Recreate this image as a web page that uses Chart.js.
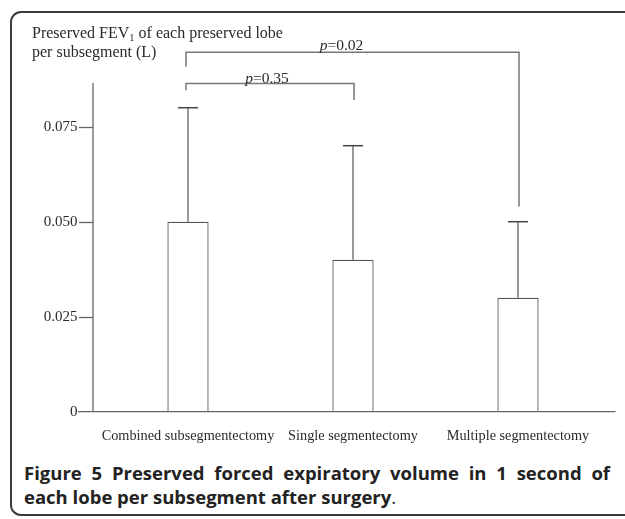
<!DOCTYPE html>
<html>
<head>
<meta charset="utf-8">
<script src="https://cdn.jsdelivr.net/npm/chart.js@4.4.1/dist/chart.umd.min.js"></script>
<style>
  html, body { margin: 0; padding: 0; background: #fff; }
  body { width: 625px; height: 519px; position: relative; overflow: hidden; }
  #frame { position: absolute; left: 10px; top: 11px; width: 660px; height: 505px;
           border: 2px solid #3a3a3a; border-radius: 11px; box-sizing: border-box; }
  #wrap { position: absolute; left: 0; top: 0; width: 625px; height: 455px; }
  #ytitle { position: absolute; left: 32px; top: 23px; font-family: "Liberation Serif", serif;
            font-size: 16px; line-height: 19px; color: #2a2a2a; white-space: nowrap; }
  #ytitle sub { font-size: 10.5px; vertical-align: -3px; line-height: 0; }
  #caption { position: absolute; left: 24px; top: 461px; width: 586px; font-family: "Open Sans", sans-serif;
             font-size: 18.5px; line-height: 24px; color: #222; }
  #caption b { font-weight: 700; }
  #cap1 { text-align: justify; text-align-last: justify; white-space: nowrap; }
  #cap2 { white-space: nowrap; }
</style>
</head>
<body>
<div id="frame"></div>
<div id="wrap"><canvas id="c" width="625" height="455"></canvas></div>
<div id="ytitle">Preserved FEV<sub>1</sub> of each preserved lobe<br>per subsegment (L)</div>
<div id="caption"><div id="cap1"><b>Figure 5 Preserved forced expiratory volume in 1 second of</b></div><div id="cap2"><b>each lobe per subsegment after surgery</b>.</div></div>
<script>
// ---- data ----
const categories = ['Combined subsegmentectomy', 'Single segmentectomy', 'Multiple segmentectomy'];
const meanValues = [0.050, 0.040, 0.030];
const upperErrorValues = [0.080, 0.070, 0.050];
const yTickValues = [0, 0.025, 0.050, 0.075];
const yTickLabels = ['0', '0.025', '0.050', '0.075'];
const yAxisMax = 0.0865;
// significance brackets
const pLabels = ['0.35', '0.02'];
const bracketFrom = [0, 0];
const bracketTo = [1, 2];
const bracketTopValues = [0.0864, 0.0946];
const bracketLeftEndValues = [0.0846, 0.0908];
const bracketRightEndValues = [0.0820, 0.0540];

const serif = '"Liberation Serif", serif';

const overlay = {
  id: 'overlay',
  afterDatasetsDraw(chart, args, opts) {
    const ctx = chart.ctx;
    const ys = chart.scales.y;
    const meta = chart.getDatasetMeta(0);
    ctx.save();
    // axes
    const axisX = chart.chartArea.left - opts.yAxisInset;
    const zeroY = ys.getPixelForValue(0);
    ctx.strokeStyle = '#666';
    ctx.lineWidth = 1.3;
    ctx.beginPath();
    ctx.moveTo(axisX, ys.getPixelForValue(yAxisMax));
    ctx.lineTo(axisX, zeroY);
    ctx.stroke();
    ctx.beginPath();
    ctx.moveTo(axisX - opts.xAxisLeftExt, zeroY);
    ctx.lineTo(chart.chartArea.right + opts.xAxisRightExt, zeroY);
    ctx.stroke();
    // y tick marks
    yTickValues.forEach(v => {
      if (v === 0) return;
      const y = Math.round(ys.getPixelForValue(v)) + 0.5;
      ctx.beginPath();
      ctx.moveTo(axisX - 14, y);
      ctx.lineTo(axisX, y);
      ctx.stroke();
    });
    // error bars
    meta.data.forEach((bar, i) => {
      const x = bar.x;
      const yTop = ys.getPixelForValue(upperErrorValues[i]);
      ctx.strokeStyle = '#777';
      ctx.lineWidth = 1.5;
      ctx.beginPath();
      ctx.moveTo(x, bar.y);
      ctx.lineTo(x, yTop);
      ctx.stroke();
      ctx.strokeStyle = '#444';
      ctx.beginPath();
      ctx.moveTo(x - 10, yTop);
      ctx.lineTo(x + 10, yTop);
      ctx.stroke();
    });
    // brackets
    pLabels.forEach((lab, k) => {
      const x1 = meta.data[bracketFrom[k]].x - 2;
      const x2 = meta.data[bracketTo[k]].x + 1;
      const yt = ys.getPixelForValue(bracketTopValues[k]);
      ctx.strokeStyle = '#777';
      ctx.lineWidth = 1.5;
      ctx.beginPath();
      ctx.moveTo(x1, ys.getPixelForValue(bracketLeftEndValues[k]));
      ctx.lineTo(x1, yt);
      ctx.lineTo(x2, yt);
      ctx.lineTo(x2, ys.getPixelForValue(bracketRightEndValues[k]));
      ctx.stroke();
      // label
      ctx.fillStyle = '#2a2a2a';
      ctx.textBaseline = 'alphabetic';
      ctx.font = 'italic 15.5px ' + serif;
      const wp = ctx.measureText('p').width;
      ctx.font = '15.5px ' + serif;
      const rest = '=' + lab;
      const wr = ctx.measureText(rest).width;
      const cx = (x1 + x2) / 2 + opts.labelShift[k];
      const sx = cx - (wp + wr) / 2;
      const by = yt - opts.labelRaise[k];
      ctx.font = 'italic 15.5px ' + serif;
      ctx.fillText('p', sx, by);
      ctx.font = '15.5px ' + serif;
      ctx.fillText(rest, sx + wp, by);
    });
    ctx.restore();
  }
};

new Chart(document.getElementById('c'), {
  type: 'bar',
  data: {
    labels: categories,
    datasets: [{
      data: meanValues,
      backgroundColor: '#ffffff',
      borderColor: '#555',
      borderWidth: 1.3,
      barPercentage: 0.25,
      categoryPercentage: 1.0
    }]
  },
  options: {
    responsive: false,
    animation: false,
    layout: { padding: { left: 20.5, right: 24.5, top: 83, bottom: 0 } },
    plugins: {
      legend: { display: false },
      tooltip: { enabled: false },
      overlay: { yAxisInset: 12.5, xAxisLeftExt: 15, xAxisRightExt: 15,
                 labelShift: [-3, -11], labelRaise: [0, 2.5] }
    },
    scales: {
      x: {
        type: 'category',
        offset: true,
        grid: { display: false, drawTicks: false },
        border: { display: false },
        afterFit(s) { s.height = 43.3; },
        ticks: {
          padding: 16,
          color: '#2a2a2a',
          font: { family: serif, size: 14.3 },
          maxRotation: 0, autoSkip: false
        }
      },
      y: {
        min: 0,
        max: yAxisMax,
        grid: { display: false, drawTicks: false },
        border: { display: false },
        afterFit(s) { s.width = 85; },
        afterBuildTicks(s) { s.ticks = yTickValues.map(v => ({ value: v })); },
        ticks: {
          padding: 28,
          color: '#2a2a2a',
          font: { family: serif, size: 15 },
          callback(v) { return yTickLabels[yTickValues.indexOf(v)]; }
        }
      }
    }
  },
  plugins: [overlay]
});
</script>
</body>
</html>
